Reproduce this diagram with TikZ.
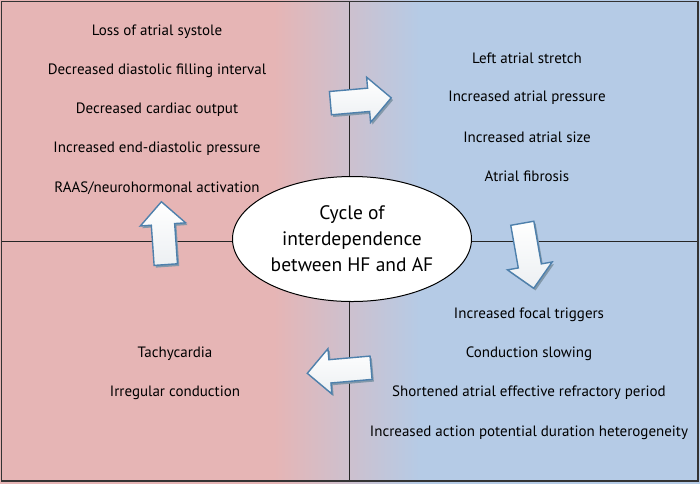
\documentclass[tikz,border=0pt]{standalone}
\usepackage{fontspec}
\setmainfont{PT Sans}
\usetikzlibrary{shapes.geometric,shapes.arrows,shadows}
\definecolor{hfpink}{RGB}{230,181,181}
\definecolor{afblue}{RGB}{181,203,230}
\definecolor{arredge}{RGB}{78,128,172}
\definecolor{arrside}{RGB}{130,152,170}
\tikzset{tx/.append style={font=\fontsize{15}{18}\selectfont, inner sep=0pt}}
\tikzset{ar/.append style={single arrow, draw=arredge, line width=1.4pt, minimum width=45pt,
  single arrow head extend=11pt, single arrow head indent=0pt, inner xsep=0pt, inner ysep=11pt,
  top color=white, bottom color=arrside!15,
  drop shadow={shadow xshift=1.8pt, shadow yshift=-2.2pt, fill=arrside, opacity=1}}}
\tikzset{cyc/.append style={ellipse, draw, line width=1pt, fill=white, minimum width=239pt,
  minimum height=125pt, inner sep=0pt, align=center, font=\fontsize{19.5}{26}\selectfont}}

\begin{document}
\begin{tikzpicture}[x=1pt,y=-1pt]
                \useasboundingbox (0,0) rectangle (700,483);
                % background
                \fill[hfpink] (-2,-2) rectangle (275,485);
                \shade[left color=hfpink, right color=afblue] (274,-2) rectangle (421,485);
                \fill[afblue] (420,-2) rectangle (702,485);
                \coordinate (n) at (349,2);
                \coordinate (s) at (349,481);
                \coordinate (w) at (2,241);
                \coordinate (e) at (698,241);
                \draw[black!85, line width=0.9pt] (n) -- (s);
                \draw[black!85, line width=0.9pt] (w) -- (e);
                \draw[black!80, line width=1.4pt] (1.5,1.5) rectangle (698,481);
                % hf side
                \node[tx] (hf1) at (157,32) {Loss of atrial systole};
                \node[tx] (hf2) at (157,71) {Decreased diastolic filling interval};
                \node[tx] (hf3) at (157,110) {Decreased cardiac output};
                \node[tx] (hf4) at (157,149) {Increased end-diastolic pressure};
                \node[tx] (hf5) at (157,188) {RAAS/neurohormonal activation};
                % af side
                \node[tx] (la1) at (527,58) {Left atrial stretch};
                \node[tx] (la2) at (527,98) {Increased atrial pressure};
                \node[tx] (la3) at (527,137) {Increased atrial size};
                \node[tx] (la4) at (527,176) {Atrial fibrosis};
                \node[tx] (ep1) at (529,315) {Increased focal triggers};
                \node[tx] (ep2) at (529,354) {Conduction slowing};
                \node[tx] (ep3) at (529,393) {Shortened atrial effective refractory period};
                \node[tx] (ep4) at (529,433) {Increased action potential duration heterogeneity};
                \node[tx] (rt1) at (175,354) {Tachycardia};
                \node[tx] (rt2) at (175,393) {Irregular conduction};
                % centre
                \node[cyc] (cycle) at (352,239) {Cycle of\\interdependence\\between HF and AF};
                % arrows
                \node[ar, minimum height=61pt, rotate=5] (toright) at (355,101) {};
                \node[ar, minimum height=66pt, rotate=-80] (todown) at (527,250) {};
                \node[ar, minimum height=64pt, rotate=185] (toleft) at (345,370) {};
                \node[ar, minimum height=63pt, rotate=94] (toup) at (164,239) {};
            \end{tikzpicture}
\end{document}
